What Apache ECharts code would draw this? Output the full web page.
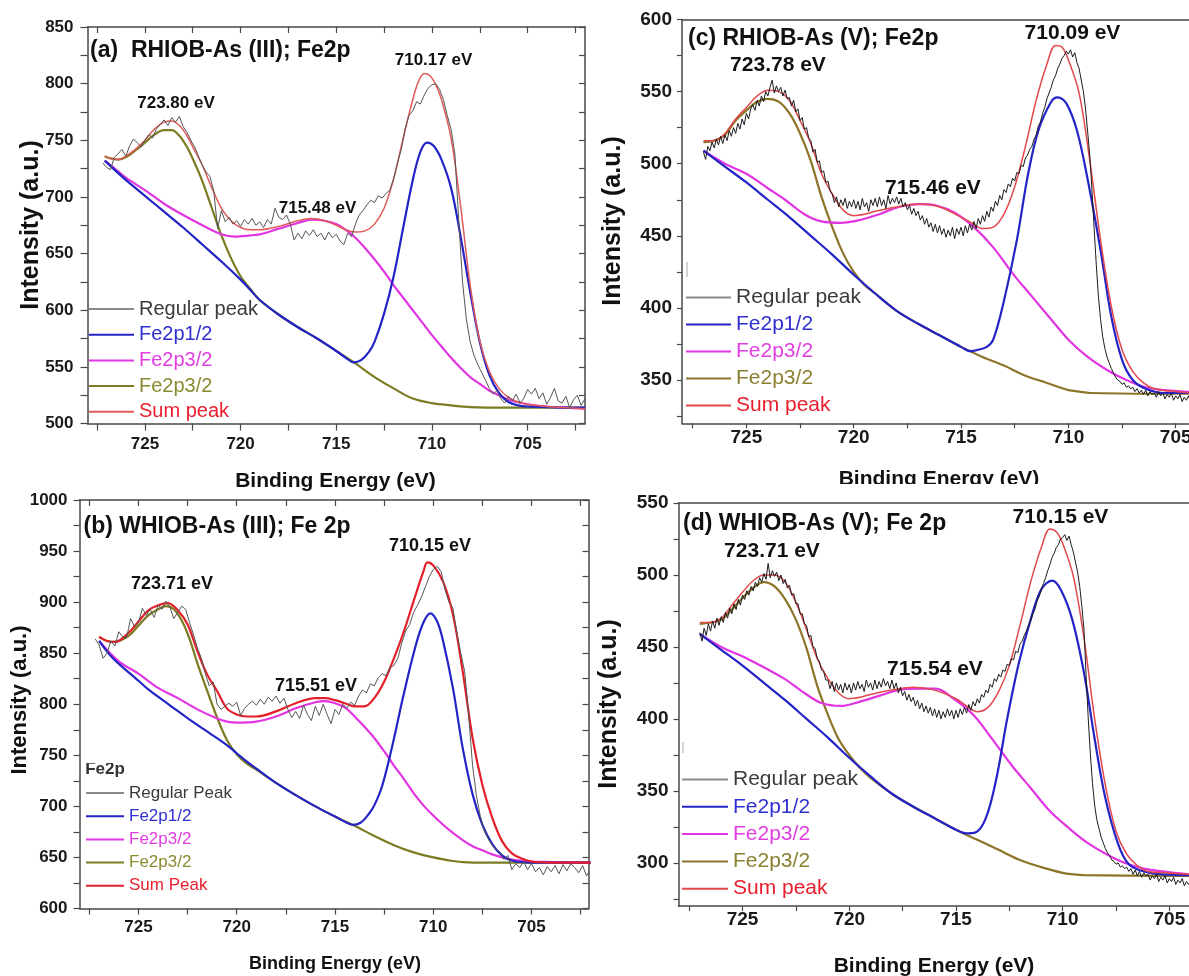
<!DOCTYPE html>
<html>
<head>
<meta charset="utf-8">
<title>Fe2p XPS spectra</title>
<script src="https://cdn.jsdelivr.net/npm/echarts@6/dist/echarts.min.js"></script>
<style>
  html, body { margin: 0; padding: 0; background: #fff; }
  #main { width: 1189px; height: 976px; }
</style>
</head>
<body>
<div id="main"></div>
<script>
// binding energy axis (eV), shared by the four panels
const xTicks = [702.5, 705, 707.5, 710, 712.5, 715, 717.5, 720, 722.5, 725, 727.5]
const xLabels = [705, 710, 715, 720, 725]

// intensity ticks
const aYTicks = [500, 525, 550, 575, 600, 625, 650, 675, 700, 725, 750, 775, 800, 825, 850]
const aYLabels = [500, 550, 600, 650, 700, 750, 800, 850]
const bYTicks = [600, 625, 650, 675, 700, 725, 750, 775, 800, 825, 850, 875, 900, 925, 950, 975, 1000]
const bYLabels = [600, 650, 700, 750, 800, 850, 900, 950, 1000]
const cYTicks = [325, 350, 375, 400, 425, 450, 475, 500, 525, 550, 575, 600]
const cYLabels = [350, 400, 450, 500, 550, 600]
const dYTicks = [275, 300, 325, 350, 375, 400, 425, 450, 475, 500, 525, 550]
const dYLabels = [300, 350, 400, 450, 500, 550]

// ---- (a) RHIOB-As (III) ----
const aRegStart = 727.2, aRegStep = 0.2
const aReg = [
  730, 726, 724, 735, 738, 742, 736, 745, 751, 748, 744, 750, 755, 752, 760,
  764, 768, 763, 770, 766, 771, 762, 757, 750, 744, 736, 728, 722, 718, 705,
  672, 688, 678, 682, 676, 679, 674, 680, 676, 681, 675, 678, 673, 680, 676,
  690, 682, 680, 684, 676, 662, 668, 663, 670, 666, 671, 665, 668, 662, 669,
  664, 667, 661, 658, 668, 665, 676, 684, 688, 693, 697, 695, 701, 699, 703,
  706, 716, 730, 742, 760, 772, 776, 784, 782, 790, 796, 799, 800, 795, 786,
  772, 760, 738, 680, 625, 592, 572, 560, 552, 545, 538, 531, 526, 529, 522,
  518, 524, 520, 526, 518, 522, 530, 526, 531, 522, 527, 517, 523, 531, 520,
  518, 524, 514, 521, 525, 516, 522
]
const aBlue = [[727.1, 732], [726, 715], [725, 701], [724, 687], [723, 673], [722, 658], [721, 643], [720, 627],
  [719.5, 618], [719, 609], [718, 596], [717, 585], [716, 575], [715, 564], [714.5, 558], [714.1, 554],
  [713.7, 556], [713.3, 563], [713, 572], [712.5, 597], [712, 630], [711.5, 673], [711, 715], [710.6, 740],
  [710.25, 748], [709.9, 745], [709.5, 733], [709, 708], [708.5, 665], [708, 616], [707.5, 572], [707, 543],
  [706.5, 527], [706, 519], [705.5, 516], [705, 515], [703, 514], [702, 514]]
const aMag = [[727.1, 732], [726.5, 724], [726, 717], [725, 706], [724, 694], [723, 684], [722, 675], [721, 667],
  [720.3, 665], [719.5, 666], [719, 667], [718, 672], [717, 677], [716.3, 680], [715.6, 679], [715, 676],
  [714.5, 671], [714, 664], [713.5, 655], [713, 645], [712.5, 634], [712, 622], [711.5, 611], [711, 600],
  [710.5, 589], [710, 578], [709.5, 568], [709, 558], [708.5, 549], [708, 541], [707.5, 535], [707, 529],
  [706.5, 525], [706, 521], [705, 517], [704, 515], [703, 514], [702, 513]]
const aOlive = [[727.1, 736], [726.8, 734], [726.4, 733], [726, 735], [725.5, 741], [725, 748], [724.5, 755],
  [724, 759], [723.6, 759], [723.2, 754], [722.8, 744], [722.4, 730], [722, 714], [721.5, 690], [721, 666],
  [720.5, 646], [720, 630], [719.5, 619], [719, 609], [718, 596], [717, 585], [716, 575], [715, 564],
  [714, 553], [713, 541], [712, 531], [711, 522], [710, 518], [709, 516], [708, 514.5], [706, 514], [702, 514]]
const aSum = [[727.1, 736], [726.8, 734], [726.4, 733], [726, 736], [725.5, 742], [725, 750], [724.5, 760],
  [724, 766], [723.6, 767], [723.2, 763], [722.8, 754], [722.4, 741], [722, 728], [721.5, 708], [721, 690],
  [720.5, 679], [720, 673], [719.5, 671], [719, 671], [718, 674], [717, 679], [716.3, 681], [715.6, 679],
  [715, 675], [714.5, 671], [714, 669], [713.5, 670], [713, 676], [712.5, 690], [712, 716], [711.5, 752],
  [711, 786], [710.7, 802], [710.4, 809], [710.1, 807], [709.8, 799], [709.5, 786], [709, 752], [708.5, 692],
  [708, 622], [707.5, 573], [707, 546], [706.5, 531], [706, 523], [705.5, 519], [705, 517], [704, 515],
  [703, 514], [702, 513]]

// ---- (b) WHIOB-As (III) ----
const bRegStart = 727.2, bRegStep = 0.2
const bReg = [
  864, 858, 845, 850, 862, 857, 871, 866, 865, 884, 876, 880, 894, 887, 893,
  885, 897, 893, 901, 895, 884, 890, 896, 893, 880, 868, 855, 845, 830, 818,
  822, 800, 795, 798, 801, 798, 802, 789, 796, 800, 803, 799, 805, 800, 807,
  803, 808, 801, 806, 795, 787, 793, 786, 799, 790, 784, 798, 789, 800, 790,
  781, 795, 790, 800, 796, 802, 799, 808, 814, 811, 820, 818, 826, 830, 828,
  836, 838, 845, 860, 872, 878, 890, 897, 905, 915, 925, 932, 935, 930, 912,
  900, 894, 870, 850, 832, 790, 740, 710, 690, 676, 668, 662, 658, 655, 648,
  652, 638, 644, 640, 646, 638, 644, 636, 640, 633, 641, 636, 642, 634, 643,
  637, 644, 640, 635, 642, 632, 638
]
const bBlue = [[727, 862], [726.3, 845], [725, 823], [724.4, 813], [723.4, 799], [722.4, 785], [721.4, 772],
  [720.5, 760], [720, 752], [719.5, 744], [719, 737], [718, 723], [717, 711], [716, 700], [715, 690],
  [714.5, 685], [714.1, 682], [713.7, 684], [713.3, 692], [713, 701], [712.6, 720], [712.1, 758], [711.5, 810],
  [710.9, 857], [710.5, 880], [710.15, 889], [709.8, 881], [709.5, 862], [709, 816], [708.5, 757], [708, 712],
  [707.5, 682], [707, 663], [706.5, 652], [706, 647], [705, 645], [702, 645]]
const bMag = [[727, 862], [726, 842], [725, 830], [724, 816], [723, 806], [722, 795], [721, 786], [720.5, 783],
  [720, 782], [719, 783], [718, 788], [717, 796], [716, 802], [715.5, 803], [715, 801], [714.5, 797],
  [714, 788], [713.5, 778], [713, 767], [712.5, 754], [712, 740], [711.5, 727], [711, 713], [710.5, 701],
  [710, 691], [709.5, 682], [709, 674], [708.5, 667], [708, 661], [707.5, 657], [707, 653], [706, 648],
  [705, 646], [704, 645.5], [702, 645]]
const bOlive = [[727, 866], [726.6, 862], [726.2, 861], [725.5, 867], [725, 877], [724.5, 887], [724, 893],
  [723.6, 896], [723.2, 893], [722.8, 882], [722.4, 864], [722, 840], [721.5, 813], [721, 787], [720.5, 765],
  [720, 751], [719.5, 742], [719, 736], [718, 723], [717, 711], [716, 700], [715, 690], [714, 681],
  [713, 671], [712, 662], [711, 655], [710, 650], [709, 646.5], [708.5, 645.5], [708, 645], [702, 645]]
const bSum = [[727, 866], [726.6, 862], [726.2, 861], [725.5, 870], [725, 881], [724.5, 892], [724, 897],
  [723.5, 899], [723, 892], [722.5, 878], [722, 852], [721.5, 829], [721, 813], [720.5, 796], [720, 790],
  [719.5, 788], [719, 788], [718, 793], [717, 801], [716, 806], [715.5, 806], [715, 804], [714.5, 801],
  [714, 798], [713.5, 798], [713, 806], [712.5, 822], [712, 845], [711.5, 871], [711, 901], [710.5, 930],
  [710.3, 939], [710, 936], [709.5, 920], [709, 888], [708.5, 832], [708, 767], [707.5, 721], [707, 689],
  [706.5, 666], [706, 654], [705.5, 649], [705, 646], [704, 645], [702, 645]]

// ---- (c) RHIOB-As (V) ----
const cRegStart = 727.0, cRegStep = 0.1
const cReg = [
  508, 503, 512, 509, 515, 511, 517, 513, 519, 514,
  520, 516, 523, 519, 525, 521, 528, 524, 531, 527,
  535, 531, 538, 541, 537, 544, 540, 547, 543, 550,
  547, 553, 558, 549, 554, 550, 553, 547, 551, 545,
  546, 540, 544, 536, 538, 530, 532, 524, 525, 518,
  516, 508, 510, 501, 502, 494, 495, 487, 488, 481,
  479, 473, 477, 470, 475, 471, 476, 469, 474, 470,
  475, 469, 474, 468, 476, 470, 473, 467, 475, 471,
  476, 470, 477, 471, 475, 469, 478, 472, 476, 473,
  477, 472, 476, 470, 473, 468, 471, 465, 469, 464,
  467, 461, 464, 458, 462, 456, 459, 453, 458, 452,
  457, 451, 455, 449, 454, 450, 456, 448, 455, 451,
  456, 450, 457, 452, 458, 454, 460, 455, 462, 458,
  464, 460, 467, 463, 470, 467, 474, 471, 478, 475,
  482, 480, 486, 484, 490, 488, 494, 493, 499, 498,
  504, 506, 510, 512, 517, 520, 526, 529, 535, 539,
  545, 549, 553, 558, 561, 566, 569, 573, 575, 578,
  576, 579, 574, 577, 570, 566, 558, 550, 538, 522,
  505, 482, 455, 430, 408, 392, 380, 372, 366, 362,
  358, 355, 352, 350, 349, 347, 348, 345, 346, 344,
  345, 342, 344, 341, 343, 340, 343, 339, 342, 340,
  341, 338, 342, 339, 341, 337, 340, 338, 341, 336,
  339, 337, 340, 335, 338, 336, 339, 334, 337, 335,
  338
]
const cBlue = [[727, 509], [726, 498], [725, 487], [724, 475], [723, 463], [722, 450], [721, 437], [720, 423],
  [719, 410], [718, 398], [717, 389], [716, 381], [715, 373], [714.55, 370], [714.2, 371], [713.8, 373],
  [713.5, 378], [713, 405], [712.4, 447], [711.9, 491], [711.4, 523], [710.8, 543], [710.5, 546], [710.1, 542],
  [709.6, 523], [709.1, 489], [708.5, 440], [708, 394], [707.5, 364], [707, 350], [706.4, 344], [705.5, 341],
  [702, 341]]
const cMag = [[727, 509], [726, 500], [725, 493], [724, 483], [723.2, 475], [722.3, 465], [721.5, 460],
  [720.6, 459], [719.7, 461], [718.8, 465], [717.9, 470], [716.9, 472], [716.15, 471], [715.3, 466],
  [714.4, 456], [713.5, 442], [712.6, 424], [711.7, 408], [710.8, 392], [710, 378], [709.1, 366], [708.2, 357],
  [707.3, 350], [706.4, 345], [705.5, 343], [704, 341.5], [702, 341]]
const cOlive = [[727, 515], [726.5, 516], [726, 520], [725.5, 530], [725, 537], [724.5, 543], [724, 545],
  [723.5, 543], [723, 535], [722.5, 521], [722, 502], [721.5, 477], [721, 456], [720.5, 438], [720, 425],
  [719.5, 416], [719, 410], [718, 398], [717, 389], [716, 381], [715, 373], [714, 366], [713, 360],
  [712, 353], [711, 348], [710, 343], [709.5, 342], [709, 341], [706, 340.5], [702, 341]]
const cSum = [[727, 516], [726.5, 516], [726, 521], [725.5, 531], [725, 539], [724.5, 547], [724, 551],
  [723.5, 550], [723, 544], [722.5, 530], [722, 514], [721.5, 493], [721, 479], [720.5, 468], [720, 464],
  [719.5, 465], [719, 467], [718, 470], [717, 472], [716, 470], [715, 463], [714.5, 459], [714, 455],
  [713.5, 456], [713, 465], [712.5, 484], [712, 512], [711.5, 544], [711, 569], [710.6, 582], [710.3, 581],
  [710, 572], [709.5, 549], [709, 502], [708.5, 447], [708, 401], [707.5, 371], [707, 356], [706.5, 348],
  [706, 344], [705, 342], [704, 341], [702, 341]]

// ---- (d) WHIOB-As (V) ----
const dRegStart = 727.0, dRegStep = 0.1
const dReg = [
  460, 454, 463, 458, 466, 461, 468, 463, 470, 465,
  471, 467, 474, 470, 477, 473, 480, 476, 483, 479,
  486, 483, 489, 486, 492, 489, 495, 492, 498, 495,
  501, 497, 508, 498, 503, 499, 502, 496, 500, 494,
  497, 491, 493, 486, 487, 480, 480, 473, 473, 466,
  465, 457, 458, 450, 449, 442, 440, 434, 433, 427,
  427, 421, 426, 419, 425, 420, 424, 418, 425, 420,
  424, 418, 425, 420, 426, 421, 424, 419, 427, 422,
  425, 420, 427, 421, 426, 422, 428, 423, 426, 421,
  427, 421, 425, 418, 422, 416, 419, 413, 417, 412,
  415, 409, 413, 407, 411, 405, 409, 404, 408, 402,
  407, 401, 406, 400, 405, 401, 407, 402, 406, 400,
  406, 401, 407, 403, 408, 404, 410, 406, 412, 409,
  414, 411, 417, 415, 420, 418, 424, 422, 428, 426,
  431, 429, 434, 433, 438, 437, 442, 441, 447, 446,
  452, 454, 458, 461, 465, 468, 473, 476, 482, 485,
  490, 494, 498, 503, 507, 512, 515, 519, 521, 525,
  526, 528, 524, 527, 521, 516, 509, 502, 492, 478,
  462, 430, 400, 375, 355, 340, 330, 324, 318, 314,
  310, 307, 305, 302, 301, 299, 300, 297, 298, 296,
  297, 294, 296, 292, 295, 291, 294, 290, 293, 291,
  292, 288, 291, 289, 292, 287, 290, 288, 291, 286,
  289, 287, 290, 285, 288, 286, 289, 284, 287, 285,
  288
]
const dBlue = [[727, 459], [726, 448], [725, 437], [724, 425], [723, 413], [722, 400], [721, 387], [720, 373],
  [719, 360], [718, 348], [717, 339], [716, 331], [715, 323], [714.5, 320.5], [714.1, 321], [713.6, 331],
  [713.1, 359], [712.6, 400], [712.05, 439], [711.5, 469], [711, 490], [710.5, 496], [710.1, 490],
  [709.55, 469], [709, 432], [708.5, 386], [708, 345], [707.4, 313], [706.9, 299], [706.2, 294], [705.3, 292],
  [702, 291]]
const dMag = [[727, 459], [726, 450], [724.8, 442], [723.05, 428], [722.2, 419], [721.3, 411], [720.4, 409],
  [719.5, 412], [718.6, 416], [717.7, 420], [716.8, 421], [715.95, 421], [715.1, 414], [714.2, 403],
  [713.3, 386], [712.4, 368], [711.5, 352], [710.6, 336], [709.7, 324], [708.85, 314], [707.95, 306],
  [707.1, 300], [706.2, 296], [705.3, 294], [704, 292], [702, 291.5]]
const dOlive = [[727, 466], [726.5, 467], [726, 469], [725.5, 476], [725, 484], [724.5, 491], [724, 495],
  [723.5, 492], [723, 483], [722.5, 469], [722, 449], [721.5, 423], [721, 403], [720.5, 386], [720, 375],
  [719.5, 366], [719, 359], [718, 348], [717, 339], [716, 331], [715, 323], [714, 316], [713, 309],
  [712, 302], [711, 297], [710, 293], [709.5, 292], [709, 291.5], [705, 291], [702, 291]]
const dSum = [[727, 467], [726.5, 467], [726, 470], [725.5, 479], [725, 488], [724.5, 496], [724, 500],
  [723.5, 500], [723, 495], [722.5, 481], [722, 462], [721.5, 442], [721, 428], [720.5, 418], [720, 414],
  [719.5, 415], [719, 417], [718, 420], [717, 422], [716, 420], [715, 414], [714.5, 409], [714, 405],
  [713.5, 408], [713, 419], [712.5, 437], [712, 465], [711.5, 495], [711, 519], [710.6, 532], [710.3, 530],
  [710, 522], [709.5, 499], [709, 456], [708.5, 400], [708, 354], [707.5, 322], [707, 306], [706.5, 298],
  [706, 294], [705, 293], [704, 292], [702, 291.5]]

// ---- helpers ----
const FONT = "'Liberation Sans', Arial, Helvetica, sans-serif"

function regPairs(start, step, vals) {
  return vals.map((v, i) => [+(start - i * step).toFixed(2), v])
}

function curve(name, data, color, width, idx, opts) {
  return Object.assign({
    name: name,
    type: 'line',
    data: data,
    xAxisIndex: idx,
    yAxisIndex: idx,
    symbol: 'none',
    smooth: 0.35,
    silent: true,
    lineStyle: { color: color, width: width },
    itemStyle: { color: color }
  }, opts || {})
}

function text(str, x, y, size, opts) {
  const align = (opts && opts.align) || 'center'
  return {
    type: 'text',
    x: x,
    y: y,
    z: 50,
    rotation: (opts && opts.rotation) || 0,
    style: {
      text: str,
      fontSize: size,
      fontWeight: (opts && opts.weight) || 'bold',
      fontFamily: FONT,
      fill: (opts && opts.fill) || '#111',
      textAlign: align,
      textVerticalAlign: 'middle'
    }
  }
}

// panel layout (pixels); the right-hand panels are cut by the page edge
const panels = [
  { key: 'a', left: 87.5, top: 27, width: 497.5, height: 396.5, xMin: 702, yMin: 500, yMax: 850,
    yTicks: aYTicks, yLabels: aYLabels, tickFont: 17, xMargin: 12, yMargin: 14, tickLen: 7, mirror: true },
  { key: 'b', left: 79.5, top: 500, width: 509, height: 408.5, xMin: 702.1, yMin: 600, yMax: 1000,
    yTicks: bYTicks, yLabels: bYLabels, tickFont: 17, xMargin: 10, yMargin: 12, tickLen: 6, mirror: true },
  { key: 'c', left: 682, top: 19.5, width: 507, height: 403.8, xMin: 704.38, yMin: 320, yMax: 600,
    yTicks: cYTicks, yLabels: cYLabels, tickFont: 19, xMargin: 5, yMargin: 10, tickLen: 5, mirror: false },
  { key: 'd', left: 678.5, top: 503, width: 510.5, height: 403, xMin: 704.08, yMin: 270, yMax: 550,
    yTicks: dYTicks, yLabels: dYLabels, tickFont: 19, xMargin: 4, yMargin: 10, tickLen: 5, mirror: false }
]

const grid = [], xAxis = [], yAxis = [], series = [], legend = []
const axisColor = '#474747'
const axisLine = { show: true, onZero: false, lineStyle: { color: axisColor, width: 1.5 } }

panels.forEach((p, i) => {
  grid.push({ left: p.left, top: p.top, width: p.width, height: p.height, show: false,
    containLabel: false, outerBoundsMode: 'none' })
  xAxis.push({
    type: 'value', gridIndex: i, min: p.xMin, max: 728, inverse: true, position: 'bottom',
    axisLine: axisLine,
    axisTick: { show: true, customValues: xTicks, length: p.tickLen, lineStyle: { color: axisColor, width: 1.2 } },
    axisLabel: { customValues: xLabels, fontSize: p.tickFont, fontWeight: 'bold', fontFamily: FONT,
      color: '#1a1a1a', margin: p.xMargin, formatter: v => String(v) },
    splitLine: { show: false }
  })
  yAxis.push({
    type: 'value', gridIndex: i, min: p.yMin, max: p.yMax, position: 'left',
    axisLine: axisLine,
    axisTick: { show: true, customValues: p.yTicks, length: p.tickLen, lineStyle: { color: axisColor, width: 1.2 } },
    axisLabel: { customValues: p.yLabels, fontSize: p.tickFont, fontWeight: 'bold', fontFamily: FONT,
      color: '#1a1a1a', margin: p.yMargin, formatter: v => String(v) },
    splitLine: { show: false }
  })
})

// frame: top edge everywhere, right edge plus inner ticks on (a) and (b)
panels.forEach((p, i) => {
  xAxis.push({
    type: 'value', gridIndex: i, min: p.xMin, max: 728, inverse: true, position: 'top',
    axisLine: axisLine,
    axisTick: { show: p.mirror, inside: true, customValues: xTicks, length: 6, lineStyle: { color: axisColor, width: 1.2 } },
    axisLabel: { show: false }, splitLine: { show: false }
  })
  if (!p.mirror) return
  yAxis.push({
    type: 'value', gridIndex: i, min: p.yMin, max: p.yMax, position: 'right',
    axisLine: axisLine,
    axisTick: { show: true, inside: true, customValues: p.yTicks, length: 6, lineStyle: { color: axisColor, width: 1.2 } },
    axisLabel: { show: false }, splitLine: { show: false }
  })
})

// ---- series ----
const sets = {
  a: { reg: regPairs(aRegStart, aRegStep, aReg), blue: aBlue, mag: aMag, olive: aOlive, sum: aSum,
       regColor: '#565656', oliveColor: '#7b7b22', sumColor: '#e05a5a', sumWidth: 1.5, regName: 'Regular peak', sumName: 'Sum peak' },
  b: { reg: regPairs(bRegStart, bRegStep, bReg), blue: bBlue, mag: bMag, olive: bOlive, sum: bSum,
       regColor: '#565656', oliveColor: '#7b7b22', sumColor: '#e3202a', sumWidth: 2.2, regName: 'Regular Peak', sumName: 'Sum Peak' },
  c: { reg: regPairs(cRegStart, cRegStep, cReg), blue: cBlue, mag: cMag, olive: cOlive, sum: cSum,
       regColor: '#1c1c1c', oliveColor: '#8c7428', sumColor: '#e2484c', sumWidth: 1.5, regName: 'Regular peak', sumName: 'Sum peak' },
  d: { reg: regPairs(dRegStart, dRegStep, dReg), blue: dBlue, mag: dMag, olive: dOlive, sum: dSum,
       regColor: '#1c1c1c', oliveColor: '#8c7428', sumColor: '#e2484c', sumWidth: 1.5, regName: 'Regular peak', sumName: 'Sum peak' }
}

const legendPos = {
  a: { left: 89, top: 299, size: 20, gap: 5.7, w: 45 },
  b: { left: 86, top: 784.5, size: 17, gap: 6.2, w: 38 },
  c: { left: 686, top: 287, size: 21, gap: 6, w: 45 },
  d: { left: 682, top: 769, size: 21, gap: 6.3, w: 46 }
}

panels.forEach((p, i) => {
  const s = sets[p.key]
  const k = '|' + p.key
  series.push(curve('Fe2p3/2' + k + '2', s.olive, s.oliveColor, 2.2, i, { z: 3 }))
  series.push(curve('Fe2p3/2' + k + '1', s.mag, '#e235e2', 2.2, i, { z: 4 }))
  series.push(curve('Fe2p1/2' + k, s.blue, '#2424c6', 2.2, i, { z: 5 }))
  series.push(curve(s.sumName + k, s.sum, s.sumColor, s.sumWidth, i, { z: 6 }))
  series.push(curve(s.regName + k, s.reg, s.regColor, 1, i, { z: 7, smooth: false }))

  const lp = legendPos[p.key]
  const olText = p.key === 'c' || p.key === 'd' ? '#8a8030' : '#8a8a30'
  legend.push({
    orient: 'vertical', left: lp.left, top: lp.top, padding: 0,
    icon: 'rect', itemWidth: lp.w, itemHeight: 2, itemGap: lp.gap, selectedMode: false,
    formatter: n => n.split('|')[0],
    textStyle: { fontSize: lp.size, fontFamily: FONT },
    data: [
      { name: s.regName + k, textStyle: { color: '#3a3a3a' }, itemStyle: { color: '#8a8a8a' } },
      { name: 'Fe2p1/2' + k, textStyle: { color: '#2f2fd2' } },
      { name: 'Fe2p3/2' + k + '1', textStyle: { color: '#e03ee0' } },
      { name: 'Fe2p3/2' + k + '2', textStyle: { color: olText } },
      { name: s.sumName + k, textStyle: { color: '#e8202e' } }
    ]
  })
})

// ---- texts: panel titles, peak labels, axis names ----
const up = { rotation: Math.PI / 2 }
const graphic = [
  // (a)
  text('(a)  RHIOB-As (III); Fe2p', 90, 51, 23, { align: 'left' }),
  text('710.17 eV', 433.5, 60, 17),
  text('723.80 eV', 176, 103, 17),
  text('715.48 eV', 317.5, 208, 17),
  text('Intensity (a.u.)', 31, 225, 25, up),
  text('Binding Energy (eV)', 335.5, 481, 21),
  // (b)
  text('(b) WHIOB-As (III); Fe 2p', 83.5, 527, 23, { align: 'left' }),
  text('710.15 eV', 430, 546, 18),
  text('723.71 eV', 172, 584, 18),
  text('715.51 eV', 316, 686, 18),
  text('Intensity (a.u.)', 20, 700, 22, up),
  text('Binding Energy (eV)', 335, 964, 18),
  text('Fe2p', 105, 769, 17, { fill: '#333' }),
  { type: 'rect', z: 100, shape: { x: 82, y: 752, width: 50, height: 11 }, style: { fill: '#fff' } },
  // (c)
  text('(c) RHIOB-As (V); Fe2p', 688, 39, 23, { align: 'left' }),
  text('710.09 eV', 1072.5, 33, 21),
  text('723.78 eV', 778, 65, 21),
  text('715.46 eV', 933, 188, 21),
  text('Intensity (a.u.)', 613, 221, 25, up),
  text('Binding Energy (eV)', 939, 479, 21),
  { type: 'rect', z: 100, shape: { x: 800, y: 484, width: 280, height: 14 }, style: { fill: '#fff' } },
  { type: 'line', z: 50, shape: { x1: 687, y1: 262, x2: 687, y2: 277 }, style: { stroke: '#aaa', lineWidth: 1 } },
  // (d)
  text('(d) WHIOB-As (V); Fe 2p', 683, 524, 23, { align: 'left' }),
  text('710.15 eV', 1060.5, 517, 21),
  text('723.71 eV', 772, 551, 21),
  text('715.54 eV', 935, 669, 21),
  text('Intensity (a.u.)', 609, 704, 25, up),
  text('Binding Energy (eV)', 934, 966, 21),
  { type: 'line', z: 50, shape: { x1: 683, y1: 742, x2: 683, y2: 753 }, style: { stroke: '#aaa', lineWidth: 1 } }
]

const chart = echarts.init(document.getElementById('main'), null, { renderer: 'canvas' })
chart.setOption({
  animation: false,
  backgroundColor: '#fff',
  grid: grid,
  xAxis: xAxis,
  yAxis: yAxis,
  legend: legend,
  series: series,
  graphic: graphic
})
window.addEventListener('resize', () => chart.resize())
</script>
</body>
</html>
